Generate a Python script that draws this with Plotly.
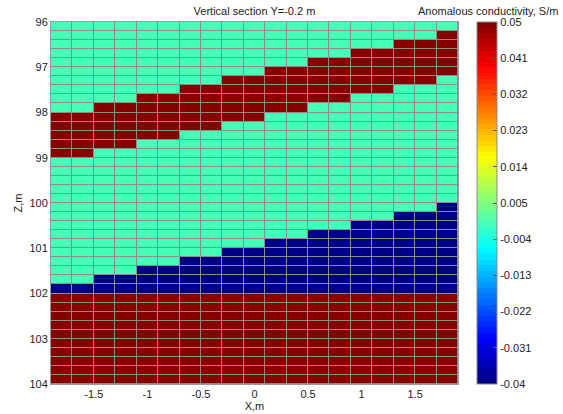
import numpy as np
import plotly.graph_objects as go

# Column centres along the profile (m) and cell size
x_centers = [-1.8, -1.6, -1.4, -1.2, -1.0, -0.8, -0.6, -0.4, -0.2, 0.0,
             0.2, 0.4, 0.6, 0.8, 1.0, 1.2, 1.4, 1.6, 1.8]
cell_dx = 0.2
z_min, z_max, cell_dz = 96.0, 104.0, 0.2

# Depth of the conductive dipping layer per column (top / bottom, m)
layer_top = [98.0, 98.0, 97.8, 97.8, 97.6, 97.6, 97.4, 97.4, 97.2, 97.2,
             97.0, 97.0, 96.8, 96.8, 96.6, 96.6, 96.4, 96.4, 96.2]
layer_bottom = [99.0, 99.0, 98.8, 98.8, 98.6, 98.6, 98.4, 98.4, 98.2, 98.2,
                98.0, 98.0, 97.8, 97.8, 97.6, 97.6, 97.4, 97.4, 97.2]
# Top of the resistive wedge per column (m); it rests on the basement
wedge_top = [101.8, 101.8, 101.6, 101.6, 101.4, 101.4, 101.2, 101.2, 101.0, 101.0,
             100.8, 100.8, 100.6, 100.6, 100.4, 100.4, 100.2, 100.2, 100.0]
basement_top = 102.0

# Anomalous conductivity of each unit (S/m)
sigma_host = 0.0
sigma_layer = 0.05
sigma_wedge = -0.04
sigma_basement = 0.05

cmin, cmax = -0.04, 0.05
cbar_ticks = [-0.04, -0.031, -0.022, -0.013, -0.004, 0.005, 0.014, 0.023, 0.032, 0.041, 0.05]
cbar_text = ["-0.04", "-0.031", "-0.022", "-0.013", "-0.004", "0.005",
             "0.014", "0.023", "0.032", "0.041", "0.05"]

# Build the model grid
nz = int(round((z_max - z_min) / cell_dz))
z_centers = z_min + cell_dz * (np.arange(nz) + 0.5)
x_edges = np.concatenate([np.array(x_centers) - cell_dx / 2, [x_centers[-1] + cell_dx / 2]])
z_edges = z_min + cell_dz * np.arange(nz + 1)

grid = np.full((nz, len(x_centers)), sigma_host)
for j in range(len(x_centers)):
    for i, zc in enumerate(z_centers):
        if layer_top[j] < zc < layer_bottom[j]:
            grid[i, j] = sigma_layer
        elif wedge_top[j] < zc < basement_top:
            grid[i, j] = sigma_wedge
        elif zc > basement_top:
            grid[i, j] = sigma_basement


# 64-level jet colour map, stepped like the classic one
def jet(n=64):
    cols = []
    for k in range(n):
        t = (k + 0.5) / n
        r = np.clip(1.5 - abs(4 * t - 3), 0, 1)
        g = np.clip(1.5 - abs(4 * t - 2), 0, 1)
        b = np.clip(1.5 - abs(4 * t - 1), 0, 1)
        cols.append(f"rgb({int(round(r * 255))},{int(round(g * 255))},{int(round(b * 255))})")
    return cols


jet_cols = jet(64)
colorscale = []
for k, c in enumerate(jet_cols):
    colorscale.append([k / 64, c])
    colorscale.append([(k + 1) / 64, c])

font = "Liberation Sans, Arial, sans-serif"

fig = go.Figure(go.Heatmap(
    x=x_edges, y=z_edges, z=grid,
    colorscale=colorscale, zmin=cmin, zmax=cmax,
    xgap=1, ygap=1,
    colorbar=dict(
        x=1.0467, xanchor="left", xpad=0,
        y=1, yanchor="top", len=1.0, lenmode="fraction", ypad=0,
        thickness=20,
        outlinewidth=1, outlinecolor="#8a8a8a",
        tickvals=cbar_ticks, ticktext=cbar_text,
        ticks="inside", ticklen=4, tickcolor="#555",
        tickfont=dict(family=font, size=11, color="#222"),
    ),
))

fig.update_layout(
    width=563, height=414,
    margin=dict(l=51, r=105, t=22, b=30, autoexpand=False),
    paper_bgcolor="white",
    plot_bgcolor="#8c8c8c",
    font=dict(family=font, size=11, color="#222"),
    title=dict(text="Vertical section Y=-0.2 m", x=0.452, xanchor="center",
               y=0.974, yanchor="middle", font=dict(family=font, size=11, color="#222")),
    annotations=[dict(text="Anomalous conductivity, S/m", xref="paper", yref="paper",
                      x=1.0, xanchor="left", y=1.0, yanchor="bottom", yshift=3,
                      xshift=-42, showarrow=False,
                      font=dict(family=font, size=11, color="#222"))],
)
fig.update_xaxes(
    range=[x_edges[0], x_edges[-1]],
    tickvals=[-1.5, -1, -0.5, 0, 0.5, 1, 1.5],
    ticktext=["-1.5", "-1", "-0.5", "0", "0.5", "1", "1.5"],
    showgrid=False, zeroline=False, ticks="", automargin=False,
    showline=True, mirror=True, linecolor="#9a9a9a", linewidth=1,
    title=dict(text="X,m", standoff=0, font=dict(family=font, size=11, color="#222")),
    tickfont=dict(family=font, size=11, color="#222"),
)
fig.update_yaxes(
    range=[z_max, z_min],
    tickvals=[96, 97, 98, 99, 100, 101, 102, 103, 104],
    showgrid=False, zeroline=False, ticks="", automargin=False,
    showline=True, mirror=True, linecolor="#9a9a9a", linewidth=1,
    title=dict(text="Z,m", standoff=4, font=dict(family=font, size=11, color="#222")),
    tickfont=dict(family=font, size=11, color="#222"),
)

fig.write_html("out.html")
